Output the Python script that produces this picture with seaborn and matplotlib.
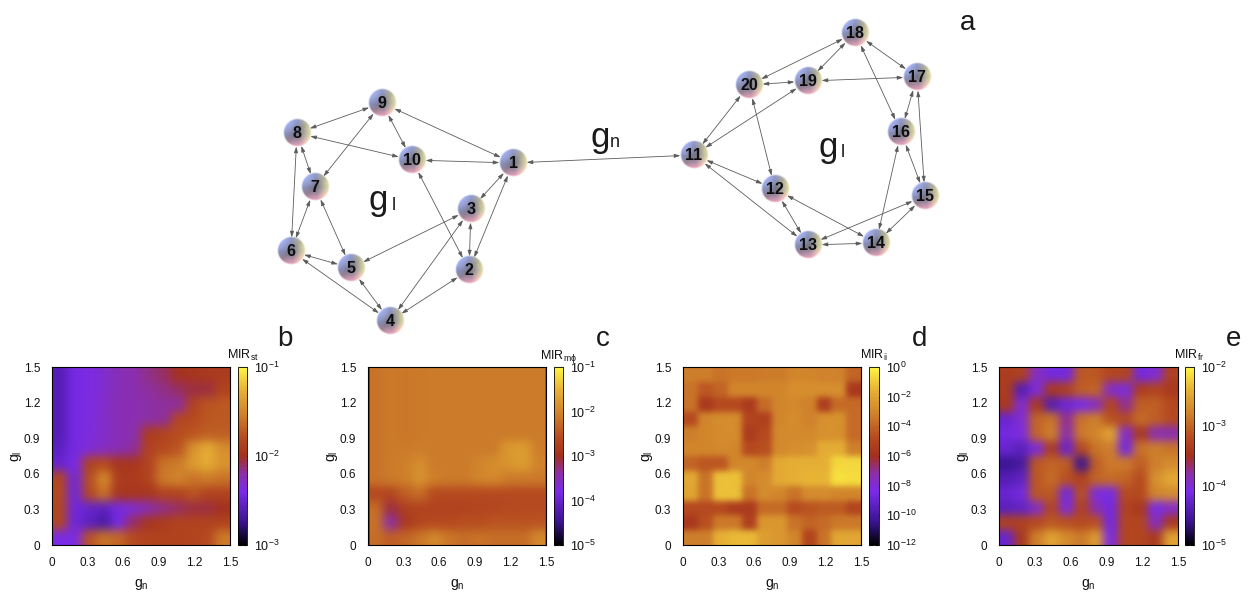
"""Two coupled modules (top) and MIR maps over gn and gl (bottom)."""

from functools import partial

import matplotlib

matplotlib.use("Agg")
import matplotlib.pyplot as plt
import numpy as np
import seaborn as sns
from matplotlib.colors import LinearSegmentedColormap, LogNorm

W, H = 1252, 606

# network, in image pixels
node_x = [513, 469, 471, 390, 351, 291, 315, 297, 382, 412,
          694, 775, 808, 876, 925, 901, 917, 855, 808, 749]
node_y = [163, 270, 209, 321, 268, 251, 187, 133, 103, 160,
          155, 189, 245, 243, 196, 132, 77, 33, 81, 85]
edges = [(9, 8), (9, 10), (9, 1), (9, 7), (8, 10), (8, 7), (8, 6), (7, 6), (7, 5), (10, 1),
         (10, 2), (1, 3), (1, 2), (3, 2), (3, 5), (3, 4), (6, 5), (6, 4), (5, 4), (2, 4),
         (18, 20), (18, 19), (18, 17), (18, 16), (20, 19), (19, 17), (20, 11), (19, 11),
         (20, 12), (17, 16), (17, 15), (16, 15), (16, 14), (11, 12), (11, 13), (12, 13),
         (12, 14), (15, 13), (15, 14), (13, 14), (1, 11)]

# log10 of MIR per cell, top row is gl = 1.375-1.5, left column is gn = 0-0.125
mir_st = [
    [-2.6, -2.42, -2.38, -2.32, -2.25, -2.22, -2.15, -2.1, -1.98, -1.95, -1.92, -1.9],
    [-2.6, -2.42, -2.38, -2.32, -2.25, -2.22, -2.18, -2.15, -2.1, -2.05, -2.05, -1.85],
    [-2.6, -2.42, -2.38, -2.3, -2.25, -2.22, -2.2, -2.18, -2.18, -1.85, -1.75, -1.72],
    [-2.6, -2.42, -2.36, -2.3, -2.25, -2.22, -2.2, -2.18, -1.82, -1.8, -1.73, -1.72],
    [-2.6, -2.42, -2.36, -2.3, -2.25, -2.22, -1.9, -1.85, -1.78, -1.75, -1.7, -1.7],
    [-2.55, -2.42, -2.35, -2.28, -2.25, -2.18, -1.85, -1.8, -1.75, -1.42, -1.28, -1.45],
    [-2.5, -2.4, -1.85, -1.8, -1.95, -1.95, -1.85, -1.6, -1.55, -1.38, -1.28, -1.42],
    [-1.82, -2.45, -1.78, -1.45, -1.9, -1.9, -1.85, -1.55, -1.5, -1.6, -1.55, -1.6],
    [-1.8, -2.45, -1.8, -1.6, -1.95, -1.95, -1.95, -1.85, -1.85, -1.75, -1.85, -1.85],
    [-1.82, -2.45, -2.5, -2.55, -2.42, -2.35, -2.25, -2.15, -2.1, -2.05, -2.05, -2.0],
    [-1.82, -2.45, -2.55, -2.65, -2.42, -2.1, -1.95, -1.9, -1.85, -1.85, -1.85, -1.85],
    [-2.4, -2.38, -1.75, -1.6, -1.65, -1.8, -1.85, -1.85, -1.85, -1.85, -1.8, -1.55],
]
mir_me = [
    [-2.2, -2.12, -2.15, -2.12, -2.12, -2.12, -2.12, -2.12, -2.12, -2.12, -2.12, -2.12],
    [-2.2, -2.12, -2.15, -2.12, -2.12, -2.12, -2.12, -2.12, -2.12, -2.12, -2.12, -2.12],
    [-2.2, -2.12, -2.15, -2.12, -2.12, -2.12, -2.12, -2.12, -2.12, -2.12, -2.12, -2.12],
    [-2.2, -2.12, -2.15, -2.12, -2.12, -2.12, -2.12, -2.12, -2.12, -2.12, -2.12, -2.12],
    [-2.2, -2.12, -2.15, -2.12, -2.12, -2.12, -2.12, -2.12, -2.12, -2.12, -2.12, -2.12],
    [-2.2, -2.12, -2.12, -2.08, -2.12, -2.12, -2.12, -2.12, -2.12, -1.78, -1.72, -2.08],
    [-2.2, -2.12, -2.05, -1.9, -2.12, -2.12, -2.12, -2.0, -1.92, -1.82, -1.72, -2.02],
    [-2.18, -2.12, -2.05, -1.85, -2.05, -2.1, -2.1, -2.0, -1.95, -2.1, -2.12, -2.12],
    [-2.65, -2.65, -2.4, -2.25, -2.6, -2.6, -2.6, -2.6, -2.6, -2.6, -2.6, -2.6],
    [-2.25, -3.1, -2.75, -2.7, -2.7, -2.7, -2.7, -2.65, -2.65, -2.6, -2.6, -2.6],
    [-2.2, -3.4, -2.85, -2.65, -2.6, -2.6, -2.55, -2.55, -2.5, -2.5, -2.5, -2.5],
    [-2.25, -2.4, -2.3, -2.15, -1.95, -2.15, -2.25, -2.2, -2.25, -2.25, -2.25, -1.95],
]
mir_ii = [
    [-3.2, -3.2, -3.6, -3.4, -3.4, -3.3, -3.3, -3.0, -3.0, -3.1, -3.1, -4.0],
    [-3.6, -4.4, -4.0, -3.0, -3.0, -3.0, -3.0, -2.7, -2.7, -2.7, -2.7, -5.6],
    [-3.6, -5.5, -4.8, -4.8, -5.4, -3.8, -3.0, -2.9, -3.1, -5.3, -3.8, -3.8],
    [-4.8, -3.0, -2.8, -2.8, -5.0, -5.2, -3.0, -2.8, -3.1, -2.6, -2.6, -3.8],
    [-3.2, -3.0, -2.8, -2.8, -5.4, -4.8, -2.9, -2.9, -2.9, -2.6, -2.6, -3.8],
    [-3.0, -3.0, -2.9, -3.0, -4.8, -4.6, -2.9, -2.7, -2.6, -1.7, -1.7, -3.2],
    [-4.0, -4.4, -4.4, -3.0, -2.9, -3.2, -1.8, -1.6, -1.6, -1.6, -0.7, -0.7],
    [-1.8, -3.6, -1.2, -1.2, -3.0, -2.8, -1.8, -1.6, -1.5, -1.5, -0.5, -0.6],
    [-2.0, -3.6, -1.2, -1.2, -3.6, -2.8, -3.0, -3.6, -2.8, -2.8, -3.0, -3.0],
    [-4.8, -4.8, -4.8, -5.4, -5.4, -3.8, -3.8, -4.7, -4.5, -4.3, -4.3, -5.0],
    [-5.6, -4.6, -3.4, -3.4, -5.2, -2.4, -2.4, -3.6, -4.0, -3.8, -3.4, -3.4],
    [-3.2, -3.2, -1.6, -1.4, -1.4, -2.2, -2.4, -3.0, -5.0, -3.6, -1.9, -1.9],
]
mir_fr = [
    [-3.35, -3.3, -3.9, -4.15, -4.15, -3.1, -3.1, -3.25, -3.25, -4.15, -4.0, -3.3],
    [-3.35, -4.4, -4.05, -3.4, -3.3, -3.05, -3.0, -3.95, -4.05, -3.35, -3.25, -3.4],
    [-3.4, -4.0, -3.4, -4.4, -4.2, -4.1, -3.9, -3.25, -3.75, -3.05, -3.05, -3.2],
    [-4.25, -4.0, -3.0, -2.9, -3.75, -2.9, -2.8, -3.15, -3.2, -2.95, -3.05, -3.2],
    [-4.15, -4.05, -3.0, -2.8, -3.8, -2.85, -2.75, -2.5, -3.95, -3.4, -3.85, -3.85],
    [-4.25, -4.35, -4.05, -3.35, -4.25, -3.2, -2.9, -2.8, -4.15, -2.9, -2.8, -2.9],
    [-4.6, -4.5, -3.1, -3.0, -3.05, -4.6, -3.05, -2.85, -2.85, -3.05, -2.8, -2.7],
    [-4.4, -4.3, -3.1, -2.95, -3.15, -3.3, -3.0, -2.95, -3.0, -3.2, -2.65, -2.45],
    [-4.25, -4.15, -3.1, -3.1, -4.15, -3.15, -4.05, -4.1, -3.2, -3.2, -2.75, -2.7],
    [-4.35, -4.3, -3.95, -3.25, -4.05, -3.3, -3.85, -4.15, -3.3, -3.4, -4.1, -3.95],
    [-3.3, -3.3, -3.2, -3.1, -3.15, -3.2, -3.15, -4.15, -3.25, -3.25, -3.9, -3.4],
    [-4.25, -3.4, -2.8, -2.5, -2.7, -2.85, -2.55, -4.05, -3.25, -3.25, -3.4, -2.5],
]

tick_vals = [0, 0.3, 0.6, 0.9, 1.2, 1.5]
tick_labels = ["0", "0.3", "0.6", "0.9", "1.2", "1.5"]
CELL = 0.125

palette = LinearSegmentedColormap.from_list(
    "mir",
    [(0.0, "#000000"), (0.13, "#3a1490"), (0.3, "#7a2be8"), (0.4, "#8c2fa8"),
     (0.5, "#a32f1e"), (0.6, "#b5491f"), (0.72, "#cc7a2a"), (0.87, "#e6b035"),
     (1.0, "#fff544")],
)

sns.set_theme(style="white")
plt.rcParams["font.family"] = ["Liberation Sans", "DejaVu Sans"]
plt.rcParams["mathtext.default"] = "regular"


def soften(img, dpi, sigma=4.0):
    # keeps the block edges of the maps soft, the way the original looks
    sigma = sigma * dpi / 100
    r = int(3 * sigma)
    kernel = np.exp(-0.5 * (np.arange(-r, r + 1) / sigma) ** 2)
    kernel /= kernel.sum()
    pad = np.pad(img, ((r, r), (r, r), (0, 0)), mode="edge")
    out = np.apply_along_axis(lambda v: np.convolve(v, kernel, mode="valid"), 0, pad)
    out = np.apply_along_axis(lambda v: np.convolve(v, kernel, mode="valid"), 1, out)
    return out, 0, 0


def px_axes(fig, x0, x1, y0, y1):
    return fig.add_axes([x0 / W, 1 - y1 / H, (x1 - x0) / W, (y1 - y0) / H])


def sphere():
    yy, xx = np.mgrid[-1:1:64j, -1:1:64j]
    rr = xx**2 + yy**2
    zz = np.sqrt(np.clip(1 - rr, 0, 1))
    blue = (np.clip(-0.72 * xx - 0.72 * yy, 0, 1) ** 1.1)[..., None]
    yellow = (np.clip(1.0 * xx - 0.1 * yy, 0, 1) ** 1.3)[..., None]
    pink = (np.clip(0.05 * xx + 1.0 * yy, 0, 1) ** 1.6)[..., None]
    rgb = np.array([0.38, 0.38, 0.44]) * (0.75 + 0.45 * zz[..., None])
    rgb = rgb + blue * np.array([0.3, 0.36, 0.58])
    rgb = rgb + yellow * np.array([0.58, 0.56, 0.26])
    rgb = rgb + pink * np.array([0.62, 0.32, 0.36])
    alpha = np.clip((1 - np.sqrt(rr)) * 9, 0, 1)[..., None]
    return np.clip(np.dstack([rgb, alpha]), 0, 1)


fig = plt.figure(figsize=(W / 100, H / 100), dpi=100)

# top network, drawn in image pixels
net = fig.add_axes([0, 0, 1, 1])
net.axis("off")
for a, b in edges:
    net.annotate(
        "",
        xy=(node_x[b - 1], node_y[b - 1]),
        xytext=(node_x[a - 1], node_y[a - 1]),
        arrowprops=dict(arrowstyle="<|-|>,head_length=0.5,head_width=0.16", color="#5c5c5c",
                        lw=0.6, shrinkA=9.8, shrinkB=9.8, mutation_scale=7),
    )
ball = sphere()
for i, (x, y) in enumerate(zip(node_x, node_y)):
    net.imshow(ball, extent=(x - 14.5, x + 14.5, y + 14.5, y - 14.5), aspect="auto", zorder=3,
               interpolation="bilinear")
    net.text(x, y + 0.5, str(i + 1), ha="center", va="center", fontsize=11.5,
             fontweight="bold", color="#0d0d0d", zorder=4)
net.set_xlim(0, W)
net.set_ylim(H, 0)
for gx, gy, sx, sub in [(369, 210, 392, "l"), (590, 147, 610, "n"), (818, 157, 841, "l")]:
    net.text(gx, gy, "g", fontsize=25, ha="left", va="baseline", color="#1a1a1a")
    net.text(sx, gy, sub, fontsize=13, ha="left", va="baseline", color="#1a1a1a")
for letter, lx, ly in [("a", 968, 30), ("b", 285, 346), ("c", 603, 346), ("d", 920, 346),
                       ("e", 1234, 346)]:
    net.text(lx, ly, letter, fontsize=20, ha="center", va="baseline", color="#1a1a1a")

# bottom maps: values, colour range, axes and colourbar pixels, title, ticks, softness
panels = [
    (mir_st, 1e-3, 1e-1, (52, 230), (238, 247), r"$MIR_{st}$", [1e-3, 1e-2, 1e-1], 5.0),
    (mir_me, 1e-5, 1e-1, (368, 546), (554, 563), r"$MIR_{m\phi}$",
     [1e-5, 1e-4, 1e-3, 1e-2, 1e-1], 5.0),
    (mir_ii, 1e-12, 1, (683, 861), (869, 879), r"$MIR_{ii}$",
     [1e-12, 1e-10, 1e-8, 1e-6, 1e-4, 1e-2, 1], 3.0),
    (mir_fr, 1e-5, 1e-2, (999, 1178), (1185, 1194), r"$MIR_{fr}$",
     [1e-5, 1e-4, 1e-3, 1e-2], 4.5),
]
for rows, vmin, vmax, (x0, x1), (c0, c1), title, cticks, blur in panels:
    ax = px_axes(fig, x0, x1, 367, 545)
    cax = px_axes(fig, c0, c1, 367, 545)
    sns.heatmap(10.0 ** np.array(rows), ax=ax, cbar_ax=cax, cmap=palette,
                norm=LogNorm(vmin=vmin, vmax=vmax), xticklabels=False, yticklabels=False,
                cbar_kws={"ticks": cticks})
    ax.collections[0].set_agg_filter(partial(soften, sigma=blur))
    ax.set_xticks([v / CELL for v in tick_vals], tick_labels)
    ax.set_yticks([(1.5 - v) / CELL for v in tick_vals], tick_labels, rotation=0)
    ax.tick_params(direction="in", length=3, width=0.7, labelsize=8.5, pad=8.5, color="#222222",
                   top=True, right=True, bottom=True, left=True, labelcolor="#111111")
    for spine in ax.spines.values():
        spine.set_visible(True)
        spine.set_linewidth(0.8)
        spine.set_color("black")
    ax.set_xlabel(r"$g_n$", fontsize=10, labelpad=6, color="#111111")
    ax.set_ylabel(r"$g_l$", fontsize=10, labelpad=0, color="#111111")
    if rows is mir_me:
        # thin edge columns of this map
        ax.axvline(0.03, color="#5a28b8", lw=2)
        ax.axvline(11.97, color="#7d5a3c", lw=2)

    cbar = ax.collections[0].colorbar
    cbar.outline.set_linewidth(0.6)
    cbar.outline.set_edgecolor("black")
    cax.tick_params(which="major", direction="in", length=3, width=0.8, labelsize=9, pad=5,
                    color="#111111", labelcolor="#111111", left=True)
    cax.tick_params(which="minor", direction="in", length=1.5, width=0.5, color="#111111",
                    left=True)
    cax.set_title(title, fontsize=9, pad=6, color="#111111")

fig.savefig("out.png", dpi=100)
